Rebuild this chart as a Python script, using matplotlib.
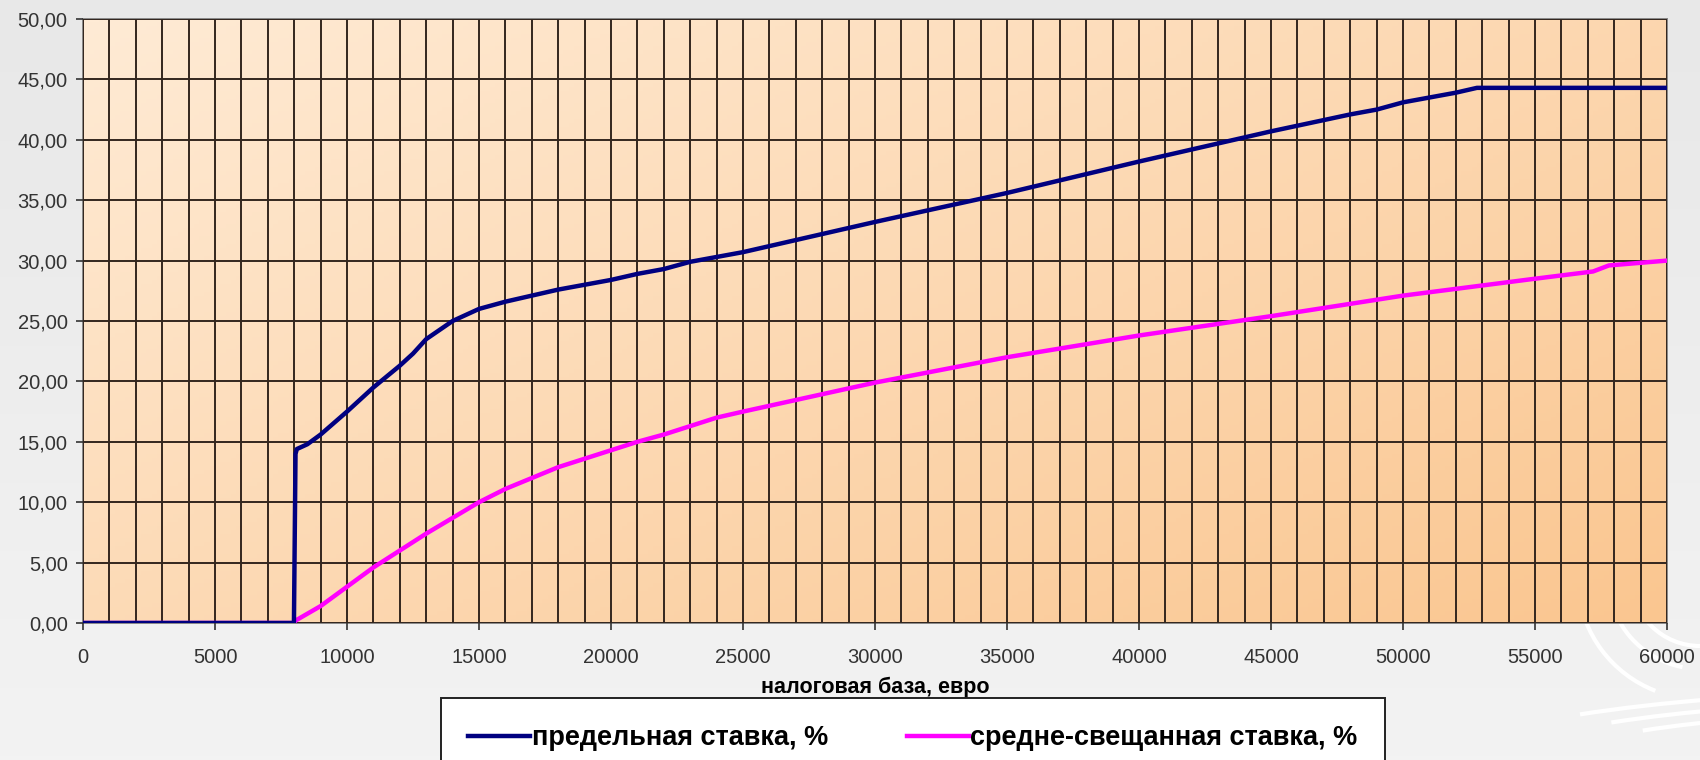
import numpy as np
import matplotlib
matplotlib.use("Agg")
from matplotlib import pyplot as plt
from matplotlib.colors import LinearSegmentedColormap
from matplotlib.patches import Arc

# values
tax_base = [0, 7990, 8050, 8100, 8500, 9000, 10000, 11000, 12000, 12500, 13000, 14000, 15000,
            16000, 17000, 18000, 19000, 20000, 21000, 22000, 23000, 25000, 30000,
            35000, 40000, 45000, 48000, 49000, 50000, 51000, 52000, 52800, 60000]
marginal_rate = [0, 0, 14.0, 14.4, 14.8, 15.6, 17.5, 19.5, 21.3, 22.3, 23.5, 25.0, 26.0,
                 26.6, 27.1, 27.6, 28.0, 28.4, 28.9, 29.3, 29.9, 30.7, 33.2,
                 35.6, 38.2, 40.7, 42.1, 42.5, 43.1, 43.5, 43.9, 44.3, 44.3]

avg_base = [0, 8000, 8050, 9000, 10000, 11000, 12000, 13000, 14000, 15000, 16000, 17000,
            18000, 19000, 20000, 21000, 22000, 23000, 24000, 25000, 30000, 35000,
            40000, 45000, 50000, 55000, 57200, 57800, 60000]
average_rate = [0, 0, 0.2, 1.4, 3.0, 4.6, 6.0, 7.4, 8.7, 10.0, 11.1, 12.0,
                12.9, 13.6, 14.3, 15.0, 15.6, 16.3, 17.0, 17.5, 19.9, 22.0,
                23.8, 25.4, 27.1, 28.5, 29.1, 29.6, 30.0]

x_ticks = list(range(0, 60001, 5000))
y_ticks = list(range(0, 51, 5))

fig = plt.figure(figsize=(17, 7.6), dpi=100)

# page background
bg = fig.add_axes([0, 0, 1, 1], zorder=-10)
bg.imshow(np.linspace(0, 1, 200).reshape(-1, 1), aspect="auto", extent=[0, 1, 0, 1],
          cmap=LinearSegmentedColormap.from_list("bg", ["#f3f3f3", "#e8e8e8"]), origin="lower")
for r, t1, t2 in [(0.16, 190, 260), (0.12, 185, 265), (0.09, 180, 270)]:
    bg.add_patch(Arc((1.0, 0.24), r * 0.9, r * 2.0, theta1=t1, theta2=t2, color="white", lw=3))
for r in [0.5, 0.56, 0.62]:
    bg.add_patch(Arc((1.12, -0.05), r, r * 0.45, theta1=100, theta2=150, color="white", lw=3))
bg.set_xlim(0, 1)
bg.set_ylim(0, 1)
bg.axis("off")

ax = fig.add_axes([83 / 1700, 137 / 760, 1584 / 1700, 604 / 760])

# plot area gradient (light peach top-left to deeper orange bottom-right)
gx, gy = np.meshgrid(np.linspace(0, 1, 300), np.linspace(0, 1, 150))
grad = 0.55 * gx + 0.45 * gy
area_cmap = LinearSegmentedColormap.from_list("area", ["#ffebd5", "#fac690"])
ax.imshow(grad, extent=[0, 60000, 0, 50], origin="upper", aspect="auto", cmap=area_cmap, zorder=0)

ax.set_xlim(0, 60000)
ax.set_ylim(0, 50)
ax.set_xticks(x_ticks)
ax.set_xticks(range(0, 60001, 1000), minor=True)
ax.set_yticks(y_ticks)
ax.set_yticklabels([f"{v:.2f}".replace(".", ",") for v in y_ticks])
ax.grid(which="both", color="#33261e", lw=1.4, zorder=1)
ax.tick_params(axis="x", which="minor", length=0)
ax.tick_params(axis="both", which="major", length=5, width=1.2, color="#333333",
               labelsize=14.5, labelcolor="#333333")
ax.tick_params(axis="x", which="major", pad=13)
ax.tick_params(axis="y", which="major", pad=6)
for lbl in ax.get_xticklabels() + ax.get_yticklabels():
    lbl.set_family(["Liberation Sans", "DejaVu Sans"])
for s in ax.spines.values():
    s.set_color("#888888")
    s.set_linewidth(1.4)
ax.set_axisbelow(False)

l1, = ax.plot(tax_base, marginal_rate, color="#000080", lw=3.2, zorder=3,
              label="предельная ставка, %")
l2, = ax.plot(avg_base, average_rate, color="#ff00ff", lw=3.2, zorder=2.9,
              label="средне-свещанная ставка, %")

ax.set_xlabel("налоговая база, евро", fontsize=15.5, fontweight="bold",
              family=["Liberation Sans", "DejaVu Sans"], labelpad=7)

leg = fig.legend(handles=[l1, l2], loc="upper left", bbox_to_anchor=(441 / 1700, 1 - 698 / 760),
                 ncol=2, frameon=True, fancybox=False, edgecolor="#222222", framealpha=1,
                 handlelength=2.3, handletextpad=0.05, columnspacing=2.9, borderpad=1.0,
                 borderaxespad=0,
                 prop={"family": ["Liberation Sans", "DejaVu Sans"],
                       "weight": "bold", "size": 19.5})
leg.get_frame().set_linewidth(1.4)

fig.savefig("out.png", dpi=100)
